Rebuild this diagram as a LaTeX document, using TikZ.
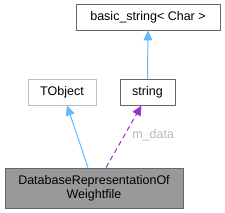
\documentclass[tikz,border=0pt]{standalone}
\usepackage{fontspec}
\setmainfont{Liberation Sans}
\usetikzlibrary{arrows.meta,calc}
\definecolor{edgeblue}{HTML}{63B8FF}
\definecolor{edgepurple}{HTML}{9A32CD}
\definecolor{boxgray}{HTML}{666666}
\definecolor{boxlight}{HTML}{BFBFBF}
\definecolor{mainfill}{HTML}{999999}
\definecolor{labelgray}{HTML}{B8B8B8}

\tikzset{
  classbox/.style={draw=boxgray,fill=white,line width=0.9pt,inner sep=0pt,font=\fontsize{12.5}{14}\selectfont},
  inherit/.style={edgeblue,line width=1pt,-{Triangle[length=10pt,width=9pt]}},
  member/.style={edgepurple,line width=1pt,dash pattern=on 5pt off 3.5pt,-{Triangle[length=10pt,width=9pt]}}
}

\begin{document}
\begin{tikzpicture}[x=1pt,y=-1pt]
  \useasboundingbox (0,0) rectangle (225,213);
  % classes
  \node[classbox,minimum width=144pt,minimum height=26pt] (basic) at (148,17) {basic\_string< Char >};
  \node[classbox,draw=boxlight,minimum width=68pt,minimum height=26pt] (tobject) at (62,92) {TObject};
  \node[classbox,minimum width=55pt,minimum height=26pt] (string) at (147.5,92) {string};
  \node[classbox,fill=mainfill,minimum width=178pt,minimum height=40pt,align=center] (main) at (94,188) {DatabaseRepresentationOf\\Weightfile};
  % relations
  \draw[inherit] (string.north) -- (basic.south);
  \draw[inherit] ($(main.north)+(-6,0)$) -- ($(tobject.south)+(5,0)$);
  \draw[member] ($(main.north)+(12,0)$) -- ($(string.south)+(-6,0)$)
    node[pos=0.52,right=4pt,text=labelgray,font=\fontsize{12.5}{14}\selectfont] {m\_data};
\end{tikzpicture}
\end{document}
